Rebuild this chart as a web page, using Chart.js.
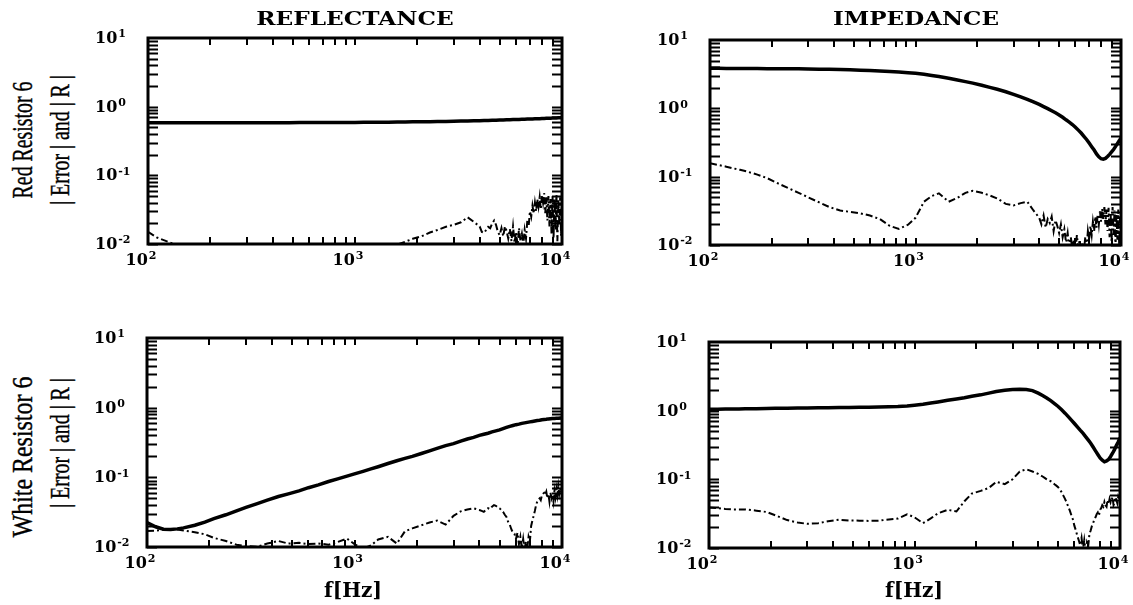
<!DOCTYPE html>
<html>
<head>
<meta charset="utf-8">
<script src="https://cdn.jsdelivr.net/npm/chart.js@4/dist/chart.umd.min.js"></script>
<style>
  html, body { margin: 0; padding: 0; background: #fff; overflow: hidden; }
  #fig { position: relative; width: 1133px; height: 605px; background: #fff; }
  canvas { position: absolute; }
  .lbl { position: absolute; white-space: nowrap; color: #000; line-height: 1; }
  .title { font: bold 19px "DejaVu Serif", serif; }
  .axis { font: bold 20px "DejaVu Serif", serif; }
  .row { font: 30px "Liberation Serif", "Times New Roman", serif; -webkit-text-stroke: 0.4px #000; }
  .row2 { font: 28px "Liberation Serif", "Times New Roman", serif; -webkit-text-stroke: 0.4px #000; }
</style>
</head>
<body>
<div id="fig"></div>
<script>
// Frequency grid [Hz] for the |R| curves
const freq = [100,110,120,130,140,150,170,190,210,240,
  270,300,340,380,430,480,540,600,670,750,
  830,920,1000,1100,1200,1300,1450,1600,1750,1900,
  2100,2300,2500,2750,3000,3250,3500,3750,
  4000,4200,4400,4600,4800,5000,5200,5400,5600,5800,
  6000,6200,6400,6600,6800,7000,7200,7400,7600,7800,
  8000,8200,8400,8600,8800,9000,9200,9400,9600,9800,10000];

// Finer frequency grid [Hz] for the noisy |Error| curves
const freqErr = [100,110,120,130,140,150,170,190,210,240,
  270,300,340,380,430,480,540,600,670,750,
  830,920,1000,1100,1200,1300,1450,1600,1750,1900,
  2100,2300,2500,2750,3000,3250,3500,3750,
  4000,4100,4200,4300,4400,4500,4600,4700,4800,4900,
  5000,5100,5200,5300,5400,5500,5600,5700,5800,5900,
  6000,6100,6200,6300,6400,6500,6600,6700,6800,6900,
  7000,7100,7200,7300,7400,7500,7600,7700,7800,7900,
  8000,8100,8200,8300,8400,8500,8600,8700,8800,8900,
  9000,9100,9200,9300,9400,9500,9600,9700,9800,9900,10000];

// Red resistor, reflectance |R| and |Error|
const reflRedR = [0.585,0.585,0.585,0.585,0.585,0.585,0.585,0.585,0.585,0.585,
  0.585,0.585,0.585,0.585,0.585,0.585,0.586,0.586,0.587,0.587,
  0.588,0.589,0.59,0.591,0.592,0.593,0.595,0.597,0.599,0.601,
  0.603,0.605,0.607,0.61,0.613,0.616,0.619,0.622,
  0.625,0.628,0.63,0.633,0.636,0.638,0.641,0.643,0.645,0.648,
  0.65,0.652,0.655,0.657,0.659,0.661,0.663,0.665,0.667,0.669,
  0.672,0.674,0.676,0.678,0.68,0.682,0.684,0.686,0.688,0.689,0.69];
const reflRedErr = [0.015,0.0125,0.0113,0.0103,0.0095,0.009,0.0085,0.008,0.008,0.008,
  0.008,0.008,0.008,0.008,0.008,0.008,0.008,0.008,0.008,0.008,
  0.008,0.008,0.008,0.008,0.008,0.008,0.0085,0.0098,0.0108,0.0119,
  0.013,0.0147,0.016,0.0178,0.019,0.0207,0.0245,0.021,
  0.018,0.015,0.0145,0.016,0.0178,0.017,0.02,0.022,0.019,0.015,
  0.0135,0.017,0.013,0.018,0.0155,0.012,0.0165,0.011,0.018,0.0105,
  0.015,0.0095,0.017,0.011,0.014,0.0098,0.016,0.012,0.022,0.018,
  0.03,0.025,0.036,0.028,0.04,0.03,0.045,0.035,0.048,0.032,
  0.052,0.04,0.055,0.028,0.048,0.022,0.05,0.018,0.045,0.014,
  0.05,0.012,0.046,0.016,0.052,0.011,0.045,0.02,0.048,0.013,0.04];

// Red resistor, impedance
const impRedR = [3.85,3.85,3.84,3.84,3.83,3.83,3.82,3.81,3.8,3.79,
  3.78,3.76,3.74,3.72,3.69,3.66,3.62,3.58,3.53,3.47,
  3.41,3.33,3.25,3.15,3.03,2.92,2.75,2.6,2.46,2.34,
  2.18,2.03,1.9,1.75,1.6,1.47,1.35,1.24,
  1.14,1.06,0.99,0.92,0.86,0.8,0.74,0.68,0.63,0.58,
  0.53,0.48,0.435,0.39,0.35,0.31,0.275,0.245,0.215,0.195,
  0.183,0.18,0.185,0.197,0.212,0.23,0.25,0.275,0.305,0.335,0.37];
const impRedErr = [0.157,0.148,0.14,0.132,0.126,0.12,0.107,0.095,0.082,0.068,
  0.058,0.05,0.042,0.036,0.032,0.0305,0.029,0.027,0.024,0.019,
  0.0172,0.0198,0.025,0.043,0.052,0.057,0.043,0.049,0.058,0.062,
  0.058,0.053,0.048,0.04,0.038,0.041,0.043,0.032,
  0.025,0.02,0.027,0.018,0.024,0.021,0.026,0.016,0.023,0.019,
  0.015,0.02,0.013,0.017,0.011,0.015,0.009,0.013,0.0085,0.012,
  0.008,0.014,0.009,0.012,0.007,0.011,0.008,0.013,0.009,0.016,
  0.012,0.019,0.014,0.022,0.016,0.026,0.018,0.028,0.02,0.031,
  0.022,0.034,0.024,0.036,0.02,0.033,0.016,0.035,0.013,0.03,
  0.011,0.036,0.014,0.032,0.009,0.028,0.012,0.033,0.01,0.025,0.03];

// White resistor, reflectance
const reflWhiteR = [0.0224,0.0195,0.018,0.0179,0.0182,0.0188,0.0205,0.0228,0.0255,0.029,
  0.033,0.037,0.042,0.047,0.053,0.058,0.064,0.071,0.078,0.087,
  0.095,0.104,0.112,0.122,0.132,0.142,0.158,0.173,0.187,0.2,
  0.22,0.24,0.26,0.285,0.305,0.33,0.355,0.375,
  0.4,0.415,0.43,0.45,0.465,0.48,0.5,0.52,0.54,0.555,
  0.57,0.58,0.595,0.605,0.615,0.625,0.635,0.645,0.655,0.66,
  0.67,0.675,0.68,0.69,0.695,0.7,0.7,0.705,0.705,0.71,0.71];
const reflWhiteErr = [0.017,0.0172,0.0178,0.018,0.0178,0.0172,0.0163,0.0152,0.0135,0.0122,
  0.0108,0.0103,0.0101,0.0112,0.0122,0.0112,0.0115,0.011,0.0112,0.0108,
  0.0118,0.0132,0.011,0.0095,0.0105,0.0128,0.014,0.0112,0.0168,0.0185,
  0.0205,0.0225,0.024,0.021,0.028,0.0325,0.0345,0.036,
  0.034,0.033,0.032,0.034,0.036,0.035,0.038,0.04,0.039,0.037,
  0.036,0.034,0.032,0.029,0.027,0.023,0.021,0.018,0.016,0.0155,
  0.013,0.016,0.011,0.014,0.0095,0.013,0.009,0.012,0.0095,0.014,
  0.012,0.02,0.024,0.028,0.033,0.04,0.045,0.048,0.05,0.047,
  0.055,0.058,0.06,0.056,0.062,0.05,0.058,0.045,0.06,0.05,
  0.056,0.045,0.064,0.052,0.068,0.055,0.074,0.058,0.07,0.06,0.075];

// White resistor, impedance
const impWhiteR = [1.05,1.05,1.055,1.06,1.06,1.065,1.07,1.075,1.08,1.085,
  1.09,1.095,1.1,1.105,1.11,1.115,1.12,1.125,1.13,1.14,
  1.15,1.17,1.2,1.24,1.29,1.34,1.42,1.48,1.54,1.62,
  1.7,1.8,1.9,1.98,2.03,2.05,2.03,1.96,
  1.8,1.66,1.53,1.4,1.27,1.15,1.03,0.92,0.82,0.73,
  0.65,0.58,0.52,0.47,0.42,0.375,0.335,0.295,0.26,0.23,
  0.205,0.19,0.18,0.185,0.195,0.215,0.24,0.27,0.31,0.35,0.4];
const impWhiteErr = [0.039,0.038,0.037,0.0365,0.0365,0.0365,0.035,0.0335,0.03,0.0255,
  0.0235,0.0225,0.023,0.0245,0.0258,0.0252,0.025,0.0248,0.025,0.026,
  0.0268,0.031,0.028,0.023,0.027,0.032,0.036,0.034,0.048,0.062,
  0.068,0.075,0.092,0.085,0.1,0.13,0.14,0.13,
  0.12,0.115,0.11,0.105,0.1,0.096,0.094,0.09,0.085,0.081,
  0.077,0.071,0.065,0.058,0.052,0.046,0.04,0.035,0.03,0.026,
  0.021,0.018,0.015,0.013,0.011,0.014,0.0095,0.013,0.009,0.012,
  0.0105,0.016,0.018,0.021,0.023,0.026,0.028,0.031,0.033,0.03,
  0.036,0.038,0.042,0.04,0.047,0.042,0.04,0.05,0.044,0.052,
  0.046,0.05,0.055,0.042,0.045,0.055,0.05,0.045,0.055,0.05,0.06];

// Axis decades and their exponents
const yTickVals = [0.01, 0.1, 1, 10];
const yTickExp = ['-2', '-1', '0', '1'];
const xTickVals = [100, 1000, 10000];
const xTickExp = ['2', '3', '4'];

// Plot boxes on the page (chart area edges, px)
const panels = [
  { area: { l: 148, t: 38,  r: 562,  b: 244 }, solid: reflRedR,   dashed: reflRedErr },
  { area: { l: 710, t: 40,  r: 1121, b: 245 }, solid: impRedR,    dashed: impRedErr },
  { area: { l: 147, t: 338, r: 562,  b: 547 }, solid: reflWhiteR, dashed: reflWhiteErr },
  { area: { l: 709, t: 342, r: 1120, b: 548 }, solid: impWhiteR,  dashed: impWhiteErr }
];
const PAD = { left: 60, top: 12, right: 15, bottom: 35 };

const tickFont = '"DejaVu Serif", serif';

// Boxed frame, inward log ticks on all four sides, and power-of-ten labels
const frameTicks = {
  id: 'frameTicks',
  afterDatasetsDraw(chart) {
    const { ctx, chartArea: a, scales: { x, y } } = chart;
    ctx.save();
    ctx.strokeStyle = '#000';
    ctx.lineWidth = 2;
    ctx.beginPath();
    for (let d = -2; d <= 0; d++) {
      for (let m = 1; m <= 9; m++) {
        const py = Math.round(y.getPixelForValue(m * Math.pow(10, d))) + 0.5;
        ctx.moveTo(a.left, py); ctx.lineTo(a.left + 10, py);
        ctx.moveTo(a.right, py); ctx.lineTo(a.right - 10, py);
      }
    }
    for (let d = 2; d <= 3; d++) {
      for (let m = 1; m <= 9; m++) {
        const px = Math.round(x.getPixelForValue(m * Math.pow(10, d)));
        ctx.moveTo(px, a.bottom); ctx.lineTo(px, a.bottom - 7);
        ctx.moveTo(px, a.top); ctx.lineTo(px, a.top + 7);
      }
    }
    ctx.stroke();
    ctx.lineWidth = 3;
    ctx.strokeRect(a.left, a.top, a.right - a.left, a.bottom - a.top);

    ctx.fillStyle = '#000';
    const drawPow = (x0, cy, exp) => {
      ctx.font = 'bold 16px ' + tickFont;
      ctx.textAlign = 'left';
      ctx.textBaseline = 'middle';
      ctx.fillText('10', x0, cy + 1);
      const wb = ctx.measureText('10').width;
      ctx.font = 'bold 11px ' + tickFont;
      ctx.textBaseline = 'top';
      ctx.fillText(exp, x0 + wb + 1, cy - 9);
    };
    const powWidth = (exp) => {
      ctx.font = 'bold 16px ' + tickFont;
      const wb = ctx.measureText('10').width;
      ctx.font = 'bold 11px ' + tickFont;
      return wb + 1 + ctx.measureText(exp).width;
    };
    yTickVals.forEach((v, i) => {
      drawPow(a.left - 53, y.getPixelForValue(v), yTickExp[i]);
    });
    xTickVals.forEach((v, i) => {
      const w = powWidth(xTickExp[i]);
      drawPow(x.getPixelForValue(v) - 7 - w / 2, a.bottom + 16, xTickExp[i]);
    });
    ctx.restore();
  }
};

const fig = document.getElementById('fig');
const pts = (xs, vals) => xs.map((f, i) => ({ x: f, y: vals[i] }));

panels.forEach((p) => {
  const c = document.createElement('canvas');
  const w = (p.area.r - p.area.l) + PAD.left + PAD.right;
  const h = (p.area.b - p.area.t) + PAD.top + PAD.bottom;
  c.width = w; c.height = h;
  c.style.left = (p.area.l - PAD.left) + 'px';
  c.style.top = (p.area.t - PAD.top) + 'px';
  c.style.width = w + 'px'; c.style.height = h + 'px';
  fig.appendChild(c);
  new Chart(c, {
    type: 'scatter',
    data: {
      datasets: [
        { data: pts(freqErr, p.dashed), showLine: true, borderColor: '#000', borderWidth: 2,
          borderDash: [7, 3, 2, 3], pointRadius: 0, clip: 0 },
        { data: pts(freq, p.solid), showLine: true, borderColor: '#000', borderWidth: 3.5,
          pointRadius: 0, clip: 0 }
      ]
    },
    options: {
      responsive: false,
      animation: false,
      devicePixelRatio: 1,
      events: [],
      layout: { padding: PAD },
      plugins: { legend: { display: false }, tooltip: { enabled: false } },
      scales: {
        x: { type: 'logarithmic', min: 100, max: 10000, display: false },
        y: { type: 'logarithmic', min: 0.01, max: 10, display: false }
      }
    },
    plugins: [frameTicks]
  });
});

// Column titles, row labels and frequency axis titles
const texts = [
  { t: 'REFLECTANCE', cls: 'title', cx: 355, cy: 18, w: 198 },
  { t: 'IMPEDANCE', cls: 'title', cx: 916, cy: 18, w: 166 },
  { t: 'f[Hz]', cls: 'axis', cx: 353, cy: 590, w: 58 },
  { t: 'f[Hz]', cls: 'axis', cx: 914, cy: 590, w: 58 },
  { t: 'Red Resistor 6', cls: 'row', cx: 22, cy: 140, w: 117, rot: true },
  { t: '| Error | and | R |', cls: 'row2', cx: 60, cy: 140, w: 130, rot: true },
  { t: 'White Resistor 6', cls: 'row', cx: 22, cy: 457, w: 161, rot: true },
  { t: '| Error | and | R |', cls: 'row2', cx: 60, cy: 443, w: 130, rot: true }
];
texts.forEach((o) => {
  const d = document.createElement('div');
  d.className = 'lbl ' + o.cls;
  d.textContent = o.t;
  d.style.left = o.cx + 'px';
  d.style.top = o.cy + 'px';
  fig.appendChild(d);
  const k = o.w / d.offsetWidth;
  d.style.transform = 'translate(-50%,-50%)' + (o.rot ? ' rotate(-90deg)' : '') + ' scaleX(' + k.toFixed(3) + ')';
});
</script>
</body>
</html>
